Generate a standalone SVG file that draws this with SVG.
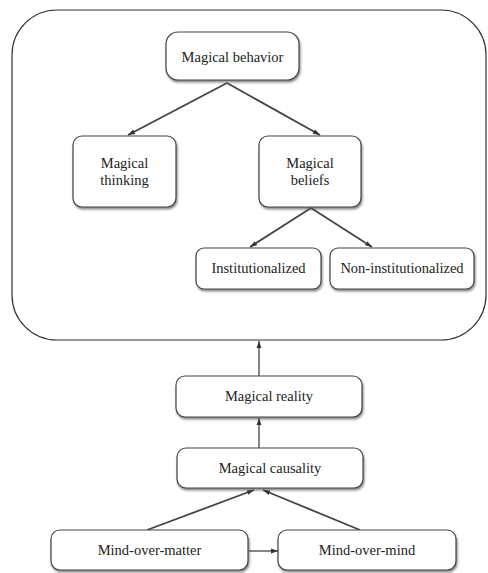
<svg xmlns="http://www.w3.org/2000/svg" width="488" height="573" viewBox="0 0 488 573">
<defs>
<marker id="ah" viewBox="0 0 10 10" refX="10" refY="5" markerWidth="7" markerHeight="7" markerUnits="userSpaceOnUse" orient="auto">
<path d="M0,1.5 L10,5 L0,8.5 Z" fill="#333"/>
</marker>
<filter id="sh" x="-10%" y="-10%" width="120%" height="130%">
<feDropShadow dx="1" dy="2" stdDeviation="0.8" flood-color="#555" flood-opacity="0.7"/>
</filter>
</defs>
<style>
.box{fill:#fff;stroke:#444;stroke-width:1.2;filter:url(#sh)}
text{font-family:"Liberation Serif",serif;font-size:14.5px;fill:#222;text-anchor:middle}
.c{stroke:#444;stroke-width:1.8;fill:none;marker-end:url(#ah)}
.c1{stroke:#333;stroke-width:1.2;fill:none;marker-end:url(#ah)}
</style>
<rect width="488" height="573" fill="#fff"/>
<g id="outer">
<rect x="12" y="10" width="474" height="330" rx="45" ry="45" fill="#fff" stroke="#333" stroke-width="1.2"/>
</g>
<g id="connectors">
<line class="c" x1="227" y1="83" x2="128" y2="135"/>
<line class="c" x1="227" y1="83" x2="320" y2="135"/>
<line class="c" x1="311" y1="208" x2="250" y2="247"/>
<line class="c" x1="311" y1="208" x2="372" y2="247"/>
<line class="c1" x1="259" y1="376" x2="259" y2="341"/>
<line class="c1" x1="259" y1="448" x2="259" y2="418"/>
<line class="c" x1="147" y1="530" x2="254" y2="490"/>
<line class="c" x1="360" y1="530" x2="263" y2="490"/>
<line class="c1" x1="249" y1="551" x2="278" y2="551"/>
</g>
<g id="magical-behavior">
<rect class="box" x="166" y="32" width="133" height="48" rx="12"/>
<text x="232.5" y="62">Magical behavior</text>
</g>
<g id="magical-thinking">
<rect class="box" x="73" y="136" width="103" height="71" rx="9"/>
<text x="124.5" y="168">Magical</text>
<text x="124.5" y="185">thinking</text>
</g>
<g id="magical-beliefs">
<rect class="box" x="259" y="136" width="102" height="71" rx="9"/>
<text x="310" y="168">Magical</text>
<text x="310" y="185">beliefs</text>
</g>
<g id="institutionalized">
<rect class="box" x="196" y="248" width="125" height="41" rx="8"/>
<text x="258.5" y="273">Institutionalized</text>
</g>
<g id="non-institutionalized">
<rect class="box" x="330" y="248" width="144" height="41" rx="8"/>
<text x="402" y="273">Non-institutionalized</text>
</g>
<g id="magical-reality">
<rect class="box" x="176" y="376" width="186" height="41" rx="9"/>
<text x="269" y="401">Magical reality</text>
</g>
<g id="magical-causality">
<rect class="box" x="177" y="448" width="186" height="40" rx="9"/>
<text x="270" y="473">Magical causality</text>
</g>
<g id="mind-over-matter">
<rect class="box" x="51" y="530" width="197" height="40" rx="9"/>
<text x="149.5" y="555">Mind-over-matter</text>
</g>
<g id="mind-over-mind">
<rect class="box" x="278" y="530" width="178" height="40" rx="9"/>
<text x="367" y="555">Mind-over-mind</text>
</g>
</svg>
